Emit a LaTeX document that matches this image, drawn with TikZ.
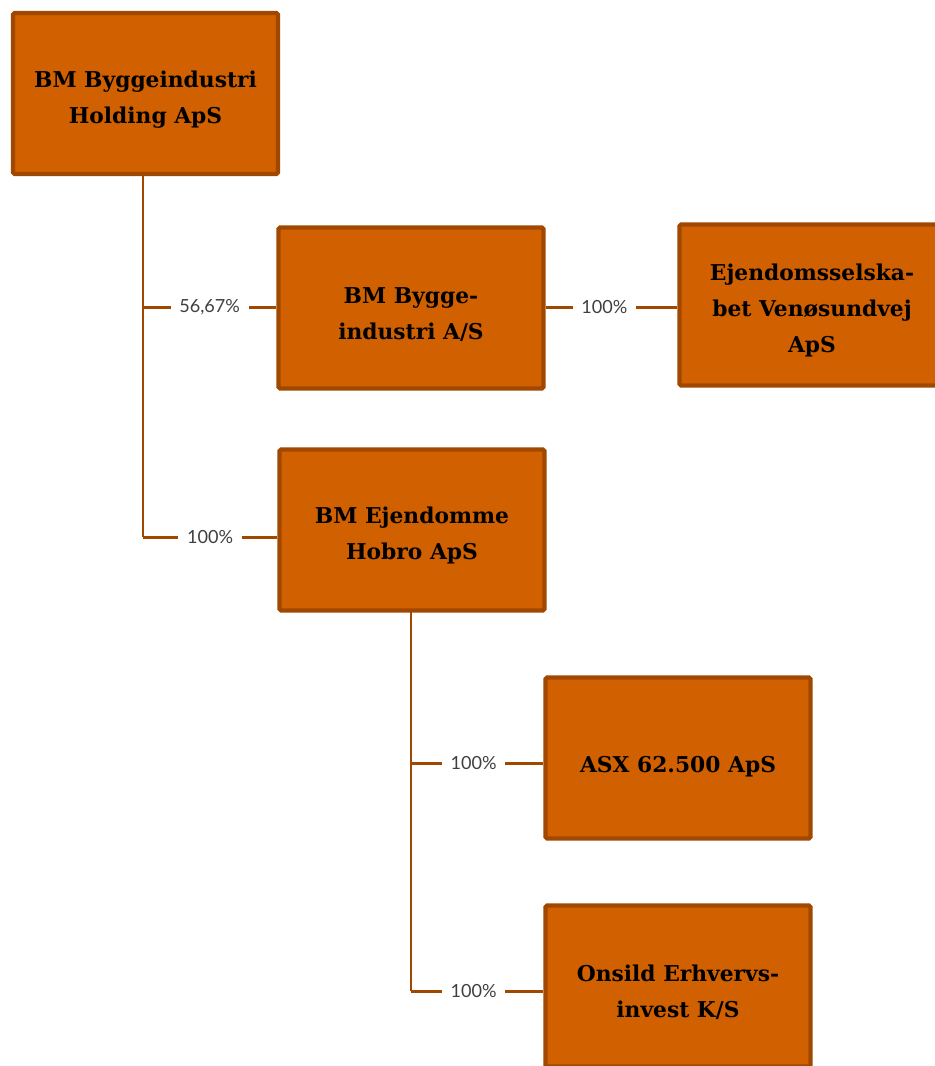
\documentclass[tikz,border=0pt]{standalone}
\usepackage{fontspec}
\setmainfont{DejaVu Serif}
\newfontfamily\pctfont{Lato}
\usepackage{tikz}
\usetikzlibrary{positioning}
\definecolor{boxfill}{RGB}{209,96,0}
\definecolor{boxline}{RGB}{160,72,0}

\begin{document}
\begin{tikzpicture}[x=0.02cm, y=-0.02cm,
  company/.style={draw=boxline, fill=boxfill, line width=2.5pt, rounded corners=1pt,
    minimum width=5.3cm, minimum height=3.22cm, align=center,
    font=\bfseries\fontsize{12.4}{20.5}\selectfont},
  owner/.style={draw=boxline, line width=1.7pt},
  pct/.style={fill=white, inner sep=5pt, font=\pctfont\fontsize{10.3}{12}\selectfont, text=black!75}]
\useasboundingbox (0,0) rectangle (935,1066);
% the companies
\node[company] (hold) at (145.5,93.5) {\rule{0pt}{2.5ex}BM Byggeindustri\\Holding ApS};
\node[company] (bygge) at (411,308) {\rule{0pt}{2.5ex}BM Bygge-\\industri A/S};
\node[company] (venoe) at (812,305) {\rule{0pt}{2.5ex}Ejendomsselska-\\bet Venøsundvej\\ApS};
\node[company] (hobro) at (412,530) {\rule{0pt}{2.5ex}BM Ejendomme\\Hobro ApS};
\node[company] (asx) at (678,758) {\rule{0pt}{2.9ex}ASX 62.500 ApS};
\node[company] (onsild) at (678,986) {\rule{0pt}{2.5ex}Onsild Erhvervs-\\invest K/S};
% trunk points
\coordinate (h0) at (143,176);
\coordinate (h1) at (143,307);
\coordinate (h2) at (143,537);
\coordinate (b0) at (411,612);
\coordinate (b1) at (411,763);
\coordinate (b2) at (411,991);
\draw[owner] (h0) -- (h2);
\draw[owner] (b0) -- (b2);
% ownership lines with their shares
\draw[owner] (h1) -- (h1 -| bygge.west) node[pct, midway] (p1) {56,67\%};
\draw[owner] (h2) -- (h2 -| hobro.west) node[pct, midway] (p2) {100\%};
\draw[owner] (bygge.east |- h1) -- (venoe.west |- h1) node[pct, midway, xshift=-4] (p3) {100\%};
\draw[owner] (b1) -- (b1 -| asx.west) node[pct, midway, xshift=-2] (p4) {100\%};
\draw[owner] (b2) -- (b2 -| onsild.west) node[pct, midway, xshift=-2] (p5) {100\%};
\end{tikzpicture}
\end{document}
